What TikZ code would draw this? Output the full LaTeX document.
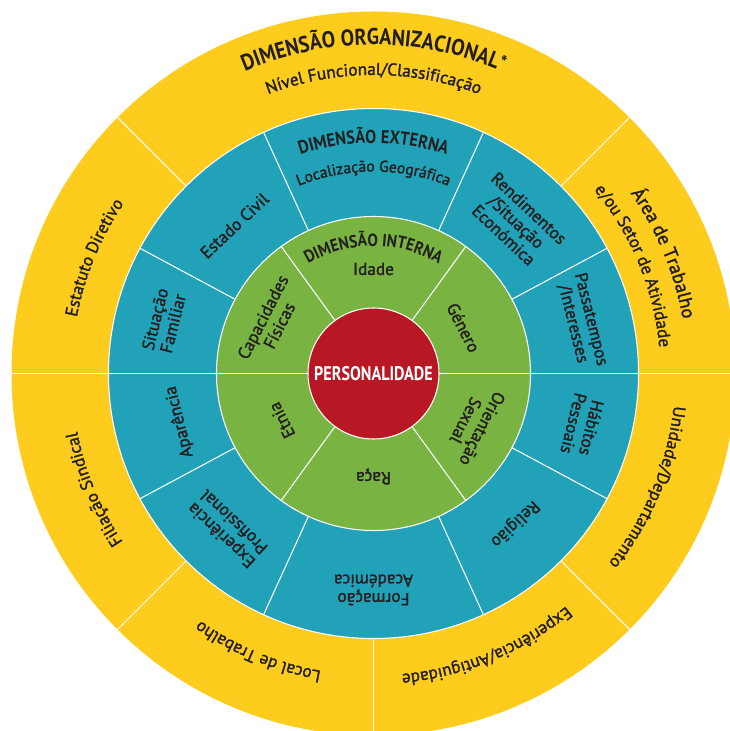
\documentclass[tikz,border=0pt]{standalone}
\usepackage{fontspec}
\setmainfont{PT Sans}
\newfontfamily\lblfont{PT Sans}[FakeBold=1.6]
\newfontfamily\ttlfont{PT Sans Bold}[FakeStretch=0.88]
\newfontfamily\persfont{PT Sans Bold}[FakeStretch=0.82]
\usetikzlibrary{decorations.text}

\definecolor{orgyellow}{HTML}{FDCC1D}
\definecolor{extblue}{HTML}{22A2B8}
\definecolor{intgreen}{HTML}{79B443}
\definecolor{persred}{HTML}{B81824}
\definecolor{txt}{HTML}{231F20}

\newcommand{\lbl}{\lblfont\fontsize{9.8}{10.5}\selectfont\color{txt}}
\newcommand{\smlbl}{\lblfont\fontsize{8.9}{10}\selectfont\color{txt}}
\newcommand{\biglbl}{\lblfont\fontsize{10.7}{12}\selectfont\color{txt}}
\newcommand{\ttl}{\ttlfont\fontsize{10.6}{12}\selectfont\color{txt}}
\newcommand{\smttl}{\ttlfont\fontsize{10}{12}\selectfont\color{txt}}
\newcommand{\bigttl}{\ttlfont\fontsize{13}{14}\selectfont\color{txt}}

\tikzset{
  sep/.style={white, line width=0.6pt},
  lab/.style={text=txt, font=\lbl, align=center, inner sep=0pt},
  curved/.style={decorate, decoration={text along path, text align=center, text={#1}}},
}

\begin{document}
\begin{tikzpicture}
  \useasboundingbox (-7.47,-7.15) rectangle (7.11,7.47);

  % the four rings
  \fill[orgyellow] (0,0) circle (7.24);
  \draw[sep, fill=extblue] (0,0) circle (5.30);
  \draw[sep, fill=intgreen] (0,0) circle (3.14);
  \draw[sep, fill=persred] (0,0) circle (1.31);

  % dividers
  \foreach \a in {0,45,135,180,225,270,315}
    \draw[sep] (\a:5.30) -- (\a:7.24);
  \foreach \a in {0,28.2,65.5,114.5,151.8,180,208.2,245.5,294.5,331.8}
    \draw[sep] (\a:3.14) -- (\a:5.30);
  \foreach \a in {0,54,126,180,234,306}
    \draw[sep] (\a:1.31) -- (\a:3.14);

  % centre
  \node[text=white, font=\persfont\fontsize{11.2}{12}\selectfont] (pers) at (0,0) {PERSONALIDADE};

  % dimensao interna
  \path[curved={|\smttl|DIMENSÃO INTERNA}] (150:2.55) arc[start angle=150, end angle=30, radius=2.55];
  \node[lab] (idade) at (90:2.09) {Idade};
  \node[lab, rotate=-63] (genero) at (27:2.02) {Género};
  \node[lab, rotate=63] (capacidades) at (153:2.30) {Capacidades\\Físicas};
  \node[lab, rotate=117] (etnia) at (207:2.06) {Etnia};
  \node[lab, rotate=180] (raca) at (270:2.06) {Raça};
  \node[lab, rotate=243] (orientacao) at (333:2.26) {Orientação\\Sexual};

  % dimensao externa
  \path[curved={|\ttl|DIMENSÃO EXTERNA}] (140:4.61) arc[start angle=140, end angle=40, radius=4.61];
  \path[curved={|\smlbl|Localização Geográfica}] (140:4.04) arc[start angle=140, end angle=40, radius=4.04];
  \node[lab, rotate=-43.25] (rendimentos) at (46.75:4.17) {Rendimentos\\/Situação\\Económica};
  \node[lab, rotate=-76] (passatempos) at (14:4.30) {Passatempos\\/Interesses};
  \node[lab, rotate=256] (habitos) at (346:4.31) {Hábitos\\Pessoais};
  \node[lab, rotate=223.25] (religiao) at (313.25:4.12) {Religião};
  \node[lab, rotate=180] (formacao) at (270:4.33) {Formação\\Académica};
  \node[lab, rotate=136.75] (experiencia) at (226.75:4.27) {Experiência\\Profissional};
  \node[lab, rotate=104] (aparencia) at (194:4.00) {Aparência};
  \node[lab, rotate=76] (situacao) at (166:4.32) {Situação\\Familiar};
  \node[lab, rotate=43.25] (estado) at (133.25:4.06) {Estado Civil};

  % dimensao organizacional
  \path[curved={|\bigttl|DIMENSÃO ORGANIZACIONAL{\raisebox{1pt}{\color{txt}\fontsize{11}{11}\selectfont *}}}] (150:6.57) arc[start angle=150, end angle=30, radius=6.57];
  \path[curved={|\lbl|Nível Funcional/Classificação}] (150:5.97) arc[start angle=150, end angle=30, radius=5.97];
  \path[curved={|\biglbl|Área de Trabalho}] (60:6.28) arc[start angle=60, end angle=-15, radius=6.28];
  \path[curved={|\lbl|e/ou Setor de Atividade}] (60:5.74) arc[start angle=60, end angle=-15, radius=5.74];
  \path[curved={|\lbl|Estatuto Diretivo}] (195:6.04) arc[start angle=195, end angle=120, radius=6.04];
  \path[curved={|\lbl|Filiação Sindical}] (240:6.04) arc[start angle=240, end angle=165, radius=6.04];
  \path[curved={|\lbl|Local de Trabalho}] (285:6.04) arc[start angle=285, end angle=210, radius=6.04];
  \path[curved={|\lbl|Experiência/Antiguidade}] (330:6.04) arc[start angle=330, end angle=255, radius=6.04];
  \path[curved={|\lbl|Unidade/Departamento}] (15:6.04) arc[start angle=15, end angle=-60, radius=6.04];
\end{tikzpicture}
\end{document}
